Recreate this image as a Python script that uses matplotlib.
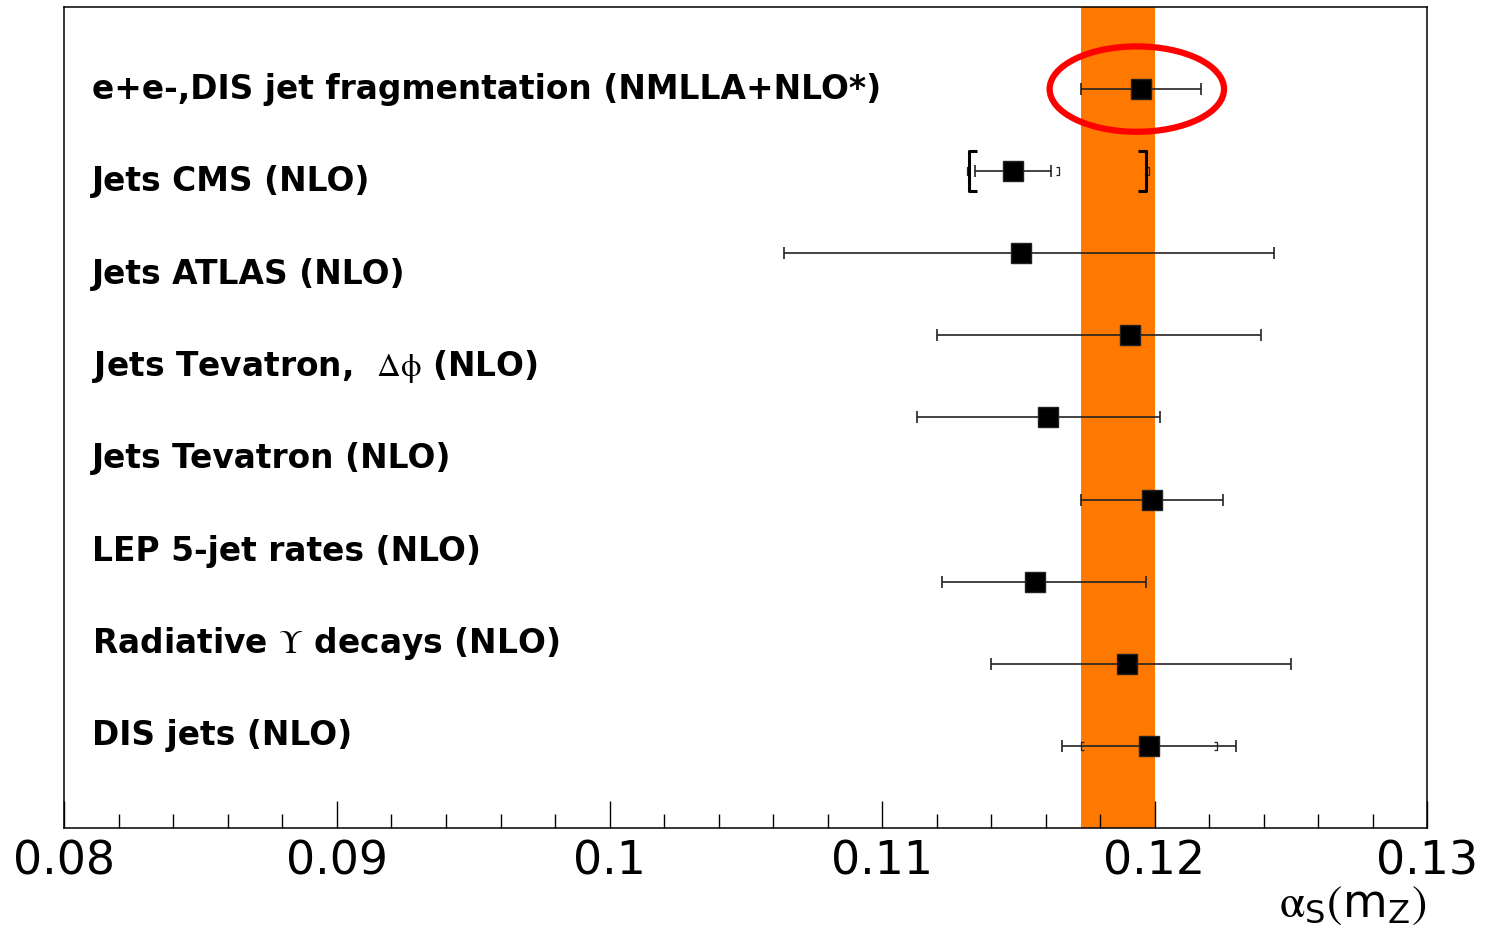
import numpy as np
import matplotlib.pyplot as plt
import matplotlib.transforms as mtransforms
from matplotlib.patches import Ellipse
from matplotlib.path import Path
from matplotlib.ticker import MultipleLocator

plt.rcParams['font.family'] = 'DejaVu Sans'
plt.rcParams['mathtext.fontset'] = 'stix'

labels = ['e+e-,DIS jet fragmentation (NMLLA+NLO*)',
          'Jets CMS (NLO)',
          'Jets ATLAS (NLO)',
          r'Jets Tevatron,  $\mathrm{\Delta\phi}$ (NLO)',
          'Jets Tevatron (NLO)',
          'LEP 5-jet rates (NLO)',
          r'Radiative $\Upsilon$ decays (NLO)',
          'DIS jets (NLO)']

# alpha_s(mZ) results, top row first
alpha_s = [0.1195, 0.1148, 0.1151, 0.1191, 0.1161, 0.1199, 0.1156, 0.1190, 0.1198]
err_lo = [0.0022, 0.0014, 0.0087, 0.0071, 0.0048, 0.0026, 0.0034, 0.0050, 0.0032]
err_hi = [0.0022, 0.0014, 0.0093, 0.0048, 0.0041, 0.0026, 0.0041, 0.0060, 0.0032]
rows = [9, 8, 7, 6, 5, 4, 3, 2, 1]

# extra uncertainty ranges drawn as brackets: CMS (row 8) and DIS jets (row 1)
cms_syst = (0.0017, 0.0017)
cms_theo = (0.0016, 0.0049)
cms_theo_small_hi = 0.0050
dis_inner = (0.0025, 0.0025)

# world average band
band_lo, band_hi = 0.1173, 0.1200

xticks = [0.08, 0.09, 0.10, 0.11, 0.12, 0.13]
xticklabels = ['0.08', '0.09', '0.1', '0.11', '0.12', '0.13']

# bracket shaped markers, vertical stroke sits on the data point
def bracket(side, arm):
    s = 1 if side == '[' else -1
    return Path([(s * arm, 1), (0, 1), (0, -1), (s * arm, -1)])

fig = plt.figure(figsize=(14.89, 9.32), dpi=100)
ax = fig.add_axes([0.0433, 0.1116, 0.9151, 0.8809])

ax.axvspan(band_lo, band_hi, color='#ff7800', lw=0, zorder=1)

ax.errorbar(alpha_s, rows, xerr=[err_lo, err_hi], fmt='s', color='black',
            ms=14.4, mec='#222222', ecolor='#222222', elinewidth=1.2,
            capsize=4, capthick=1.2, zorder=3)

small = dict(ls='none', ms=5.5, mew=0.9, mfc='none', mec='#222222', zorder=3)
x_cms, y_cms = alpha_s[1], rows[1]
ax.plot([x_cms - cms_syst[0]], [y_cms], marker=bracket('[', 0.8), **small)
ax.plot([x_cms + cms_syst[1], x_cms + cms_theo_small_hi], [y_cms, y_cms],
        marker=bracket(']', 0.8), **small)
x_dis, y_dis = alpha_s[8], rows[8]
ax.plot([x_dis - dis_inner[0]], [y_dis], marker=bracket('[', 0.8), **small)
ax.plot([x_dis + dis_inner[1]], [y_dis], marker=bracket(']', 0.8), **small)

big = dict(ls='none', ms=29.5, mew=2.2, mfc='none', mec='black', zorder=3)
ax.plot([x_cms - cms_theo[0]], [y_cms], marker=bracket('[', 0.4), **big)
ax.plot([x_cms + cms_theo[1]], [y_cms], marker=bracket(']', 0.4), **big)

ax.add_patch(Ellipse((alpha_s[0] - 0.00015, rows[0]), 0.0064, 1.04,
                     fill=False, ec='red', lw=4.5, zorder=5))

trans = mtransforms.blended_transform_factory(ax.transAxes, ax.transData)
label_y = 8.88 - 1.125 * np.arange(len(labels))
for txt, y in zip(labels, label_y):
    ax.text(0.0202, y, txt, transform=trans, fontsize=23.7, fontweight='bold',
            va='baseline', ha='left')

ax.set_xlim(0.08, 0.13)
ax.set_ylim(0, 10)
ax.set_yticks([])
ax.set_xticks(xticks)
ax.set_xticklabels(xticklabels)
ax.xaxis.set_minor_locator(MultipleLocator(0.002))
ax.tick_params(axis='x', which='major', direction='in', length=19.5, width=1,
               labelsize=33, pad=8, top=False)
ax.tick_params(axis='x', which='minor', direction='in', length=10, width=1, top=False)
for sp in ax.spines.values():
    sp.set_linewidth(1.1)

ax.set_xlabel(r'$\mathrm{\alpha}_{\mathregular{S}}(\mathregular{m}_{\mathregular{Z}})$',
              fontsize=33, ha='right')
ax.xaxis.set_label_coords(1.0, -0.066)

fig.savefig('out.png', dpi=100)
